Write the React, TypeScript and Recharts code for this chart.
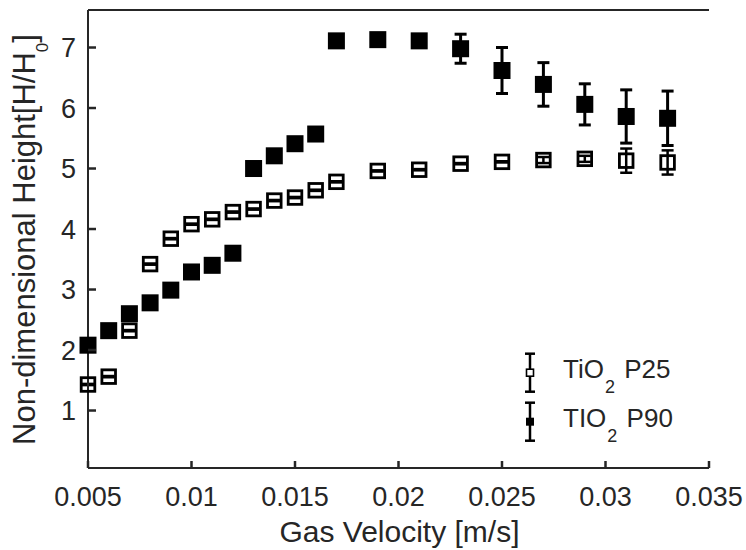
import { ErrorBar, Legend, ReferenceLine, Scatter, ScatterChart, XAxis, YAxis } from "recharts";

// gas velocity [m/s], same for both powders
const velocity = [
	0.005, 0.006, 0.007, 0.008, 0.009, 0.01, 0.011, 0.012, 0.013, 0.014, 0.015,
	0.016, 0.017, 0.019, 0.021, 0.023, 0.025, 0.027, 0.029, 0.031, 0.033,
];
const p25Height = [
	1.43, 1.56, 2.32, 3.42, 3.84, 4.08, 4.16, 4.28, 4.33, 4.47, 4.52, 4.64, 4.78,
	4.96, 4.98, 5.08, 5.11, 5.14, 5.16, 5.13, 5.1,
];
const p25Error = [
	0.01, 0.01, 0.01, 0.01, 0.01, 0.01, 0.01, 0.01, 0.01, 0.01, 0.01, 0.01, 0.01,
	0.01, 0.01, 0.01, 0.01, 0.05, 0.05, 0.2, 0.2,
];
const p90Height = [
	2.08, 2.32, 2.6, 2.78, 2.99, 3.29, 3.4, 3.6, 5.0, 5.21, 5.41, 5.57, 7.11,
	7.13, 7.11, 6.98, 6.62, 6.39, 6.06, 5.86, 5.83,
];
const p90Error = [
	0, 0, 0, 0, 0, 0, 0, 0, 0, 0, 0, 0, 0, 0, 0, 0.24, 0.38, 0.36, 0.34, 0.44,
	0.45,
];

const xTicks = [0.005, 0.01, 0.015, 0.02, 0.025, 0.03, 0.035];
const yTicks = [1, 2, 3, 4, 5, 6, 7];
const yDomain = [0.05, 7.62];

const legendNames = ["TiO", "TIO"];
const legendGrades = [" P25", " P90"];

const p25Data = velocity.map((v, i) => ({ v, h: p25Height[i], err: p25Error[i] }));
const p90Data = velocity.map((v, i) => ({ v, h: p90Height[i], err: p90Error[i] }));

const INK = "#262626";
const FONT = "'Liberation Sans', Arial, sans-serif";

const OpenSquare = (props: any) => {
	const { cx, cy } = props;
	return (
		<rect
			x={cx - 6.8}
			y={cy - 6.8}
			width={13.6}
			height={13.6}
			fill="none"
			stroke="#000"
			strokeWidth={2.8}
		/>
	);
};

const FilledSquare = (props: any) => {
	const { cx, cy } = props;
	return <rect x={cx - 8.5} y={cy - 8.5} width={17} height={17} fill="#000" />;
};

const XTick = ({ x, y, payload }: any) => (
	<g>
		<line x1={x} x2={x} y1={y} y2={y - 7} stroke={INK} strokeWidth={2.5} />
		<text x={x} y={y + 38} textAnchor="middle" fontSize={27} fill={INK} fontFamily={FONT}>
			{String(payload.value)}
		</text>
	</g>
);

const YTick = ({ x, y, payload }: any) => (
	<g>
		<line x1={x} x2={x + 8} y1={y} y2={y} stroke={INK} strokeWidth={2.5} />
		<text x={x - 12} y={y} dy="0.36em" textAnchor="end" fontSize={27} fill={INK} fontFamily={FONT}>
			{payload.value}
		</text>
	</g>
);

const LegendBox = () => (
	<svg width={200} height={100} style={{ overflow: "visible" }}>
		{legendNames.map((name, i) => {
			const cy = 32.7 + i * 49;
			return (
				<g key={name}>
					<line x1={20} x2={20} y1={cy - 19} y2={cy + 19} stroke="#000" strokeWidth={2.5} />
					<line x1={15} x2={25} y1={cy - 19} y2={cy - 19} stroke="#000" strokeWidth={2.5} />
					<line x1={15} x2={25} y1={cy + 19} y2={cy + 19} stroke="#000" strokeWidth={2.5} />
					{i === 0 ? (
						<rect x={16.5} y={cy - 3.5} width={7} height={7} fill="#fff" stroke="#000" strokeWidth={1.6} />
					) : (
						<rect x={16} y={cy - 4} width={8} height={8} fill="#000" />
					)}
					<text x={53} y={cy + 5} fontSize={26} fill={INK} fontFamily={FONT}>
						{name}
						<tspan dy={15} dx={1} fontSize={18}>
							2
						</tspan>
						<tspan dy={-15} dx={2}>
							{legendGrades[i]}
						</tspan>
					</text>
				</g>
			);
		})}
	</svg>
);

export default function App() {
	return (
		<div style={{ position: "fixed", left: 0, top: 0, background: "#fff" }}>
			<ScatterChart width={746} height={550} margin={{ top: 10, right: 37, bottom: 0, left: 0 }}>
				<XAxis
					dataKey="v"
					type="number"
					domain={[0.005, 0.035]}
					ticks={xTicks}
					height={82}
					tickLine={false}
					tickSize={0}
					tickMargin={0}
					tick={<XTick />}
					axisLine={{ stroke: INK, strokeWidth: 2 }}
					label={{
						content: () => (
							<text x={399.5} y={542} textAnchor="middle" fontSize={30} fill={INK} fontFamily={FONT}>
								Gas Velocity [m/s]
							</text>
						),
					}}
				/>
				<YAxis
					dataKey="h"
					type="number"
					domain={yDomain}
					ticks={yTicks}
					width={88}
					tickLine={false}
					tickSize={0}
					tickMargin={0}
					tick={<YTick />}
					axisLine={{ stroke: INK, strokeWidth: 2 }}
					label={{
						content: () => (
							<text
								transform="translate(35, 239.5) rotate(-90)"
								textAnchor="middle"
								fontSize={31}
								fill={INK}
								fontFamily={FONT}
							>
								Non-dimensional Height[H/H
								<tspan dy={13} fontSize={17}>
									0
								</tspan>
								<tspan dy={-13}>]</tspan>
							</text>
						),
					}}
				/>
				<YAxis
					yAxisId="right"
					orientation="right"
					type="number"
					domain={[0, 1]}
					ticks={[]}
					width={0}
					tick={false}
					tickLine={false}
					axisLine={{ stroke: INK, strokeWidth: 2 }}
				/>
				<ReferenceLine y={yDomain[1]} stroke={INK} strokeWidth={2} />
				<Legend
					layout="vertical"
					align="center"
					verticalAlign="middle"
					content={<LegendBox />}
					wrapperStyle={{ left: 510, top: 340, width: 200, height: 100 }}
				/>
				<Scatter name="TiO2 P25" data={p25Data} shape={<OpenSquare />} isAnimationActive={false}>
					<ErrorBar dataKey="err" direction="y" width={6} stroke="#000" strokeWidth={2.5} isAnimationActive={false} />
				</Scatter>
				<Scatter name="TIO2 P90" data={p90Data} shape={<FilledSquare />} isAnimationActive={false}>
					<ErrorBar dataKey="err" direction="y" width={6} stroke="#000" strokeWidth={3} isAnimationActive={false} />
				</Scatter>
			</ScatterChart>
		</div>
	);
}
